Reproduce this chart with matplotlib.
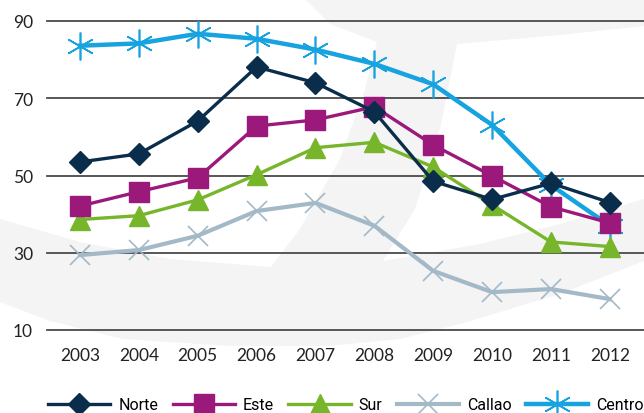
import numpy as np
import matplotlib.pyplot as plt
from matplotlib.patches import Polygon

years = [2003, 2004, 2005, 2006, 2007, 2008, 2009, 2010, 2011, 2012]
norte = [53.5, 55.6, 64.1, 78.1, 74.0, 66.5, 48.5, 43.8, 48.0, 43.0]
este = [42.1, 45.8, 49.4, 62.8, 64.4, 67.8, 57.9, 49.9, 41.9, 37.7]
sur = [38.6, 39.6, 43.7, 50.2, 57.2, 58.6, 52.2, 42.4, 32.8, 31.6]
callao = [29.4, 30.7, 34.4, 40.8, 42.9, 37.0, 25.3, 19.8, 20.6, 18.0]
centro = [83.6, 84.2, 86.7, 85.4, 82.6, 78.9, 73.6, 63.1, 47.5, 37.0]
yticks = [10, 30, 50, 70, 90]

W, H = 644, 414
fig = plt.figure(figsize=(W / 100, H / 100), dpi=100)

# faint watermark shapes behind the chart (pixel coords from top-left)
def px(pts):
    return [(x / W, 1 - y / H) for x, y in pts]

bg = '#f4f4f4'
shapes = [
    [(305, 0), (644, 0), (644, 27), (560, 36), (457, 45), (377, 43), (330, 25)],
    [(377, 43), (457, 45), (440, 130), (415, 210), (383, 262), (480, 245),
     (560, 225), (644, 200), (644, 262), (560, 295), (460, 325), (400, 340),
     (329, 347), (230, 347), (123, 340), (50, 322), (0, 303), (0, 220),
     (80, 243), (170, 260), (271, 268), (300, 230), (340, 160), (365, 90)],
]
for s in shapes:
    fig.patches.append(Polygon(px(s), closed=True, facecolor=bg, edgecolor='none',
                               transform=fig.transFigure, zorder=-1))

ax = fig.add_axes([47 / W, 1 - 331 / H, 1 - 47 / W, (331 - 22) / H])
ax.patch.set_alpha(0)
ax.set_xlim(2002.44, 2012.58)
ax.set_ylim(10, 90)

for y in yticks:
    ax.axhline(y, color='#4a4a4a', lw=1.3, zorder=1, clip_on=False)

ax.plot(years, callao, color='#a3b9c7', lw=3, marker='x', ms=14, mew=1.2,
        label='Callao', zorder=2)
ax.plot(years, centro, color='#17a2e0', lw=3.2, marker=(6, 2, 0), ms=20, mew=1.2,
        label='Centro', zorder=3)
ax.plot(years, sur, color='#77b52a', lw=2.4, marker='^', ms=15, label='Sur', zorder=4)
ax.plot(years, este, color='#9c197c', lw=2.4, marker='s', ms=14, label='Este', zorder=5)
ax.plot(years, norte, color='#0b2d4c', lw=2.4, marker='D', ms=11, label='Norte', zorder=6)

for s in ax.spines.values():
    s.set_visible(False)
ax.set_xticks(years)
ax.set_yticks(yticks)
ax.tick_params(length=0, labelsize=12.5, labelcolor='#222222')
ax.tick_params(axis='x', pad=12)
ax.tick_params(axis='y', pad=10)
for t in ax.get_xticklabels() + ax.get_yticklabels():
    t.set_family(['Lato', 'DejaVu Sans'])

h, l = ax.get_legend_handles_labels()
order = [4, 3, 2, 0, 1]
fig.legend([h[i] for i in order], [l[i] for i in order], loc='center',
           bbox_to_anchor=(346 / W, 1 - 406 / H), ncol=5, frameon=False,
           handlelength=3.9, handletextpad=0.5, columnspacing=0.9,
           prop={'family': ['Roboto', 'DejaVu Sans'], 'size': 11.5})

fig.savefig('out.png', dpi=100)
